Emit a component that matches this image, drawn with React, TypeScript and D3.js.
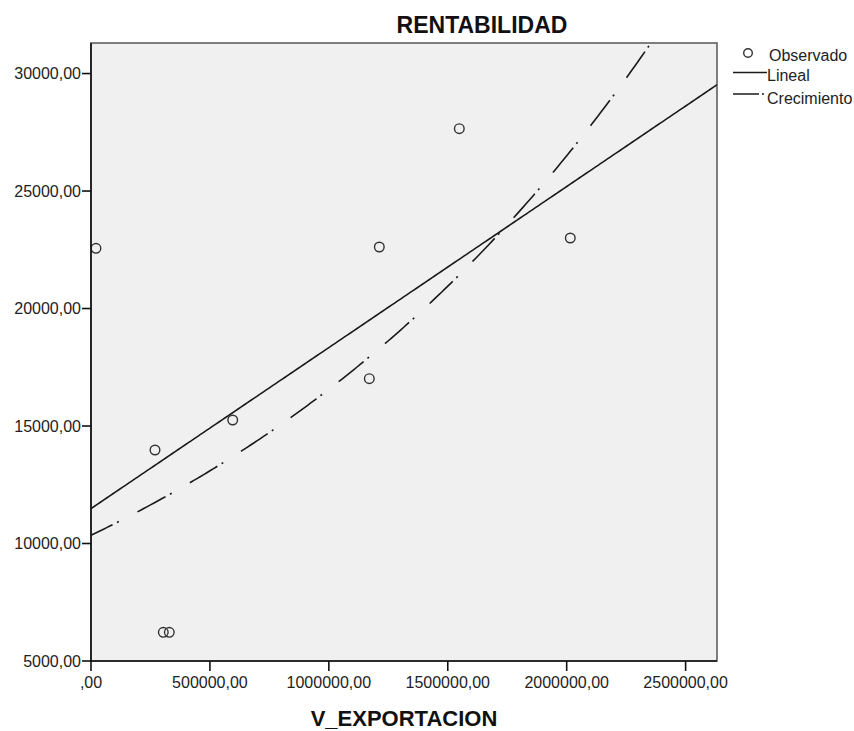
import React from "react";
import * as d3 from "d3";

const xValues = [21000, 269100, 304000, 329200, 595800, 1170100, 1212200, 1548500, 2015200];
const yValues = [22563, 13979, 6221, 6221, 15256, 17014, 22618, 27653, 23001];
const xTicks = [0, 500000, 1000000, 1500000, 2000000, 2500000];
const yTicks = [5000, 10000, 15000, 20000, 25000, 30000];
const xDomain = [0, 2632000];
const yDomain = [5000, 31300];
const legendLabels = ["Observado", "Lineal", "Crecimiento"];
const chartTitle = "RENTABILIDAD";
const xTitle = "V_EXPORTACION";

const W = 854;
const H = 731;
const L = 91, R = 717, T = 43, B = 661;
const FONT = "'Liberation Sans', Arial, sans-serif";

function fmt(v: number) {
  if (v === 0) return ",00";
  return d3.format(".2f")(v).replace(".", ",");
}

function linFit(xs: number[], ys: number[]) {
  const mx = d3.mean(xs)!, my = d3.mean(ys)!;
  let sxy = 0, sxx = 0;
  xs.forEach((x, i) => { sxy += (x - mx) * (ys[i] - my); sxx += (x - mx) ** 2; });
  const b = sxy / sxx;
  return { a: my - b * mx, b };
}

export default function App() {
  const x = d3.scaleLinear().domain(xDomain).range([L, R]);
  const y = d3.scaleLinear().domain(yDomain).range([B, T]);

  const lin = linFit(xValues, yValues);
  const gro = linFit(xValues, yValues.map(Math.log));

  const steps = d3.range(0, 201).map((i) => xDomain[0] + (xDomain[1] - xDomain[0]) * i / 200);
  const linePath = d3.line<number>().x((v) => x(v)).y((v) => y(lin.a + lin.b * v))(steps) || "";
  const growPath = d3.line<number>().x((v) => x(v)).y((v) => y(Math.exp(gro.a + gro.b * v)))(steps) || "";

  return (
    <svg width={W} height={H} style={{ position: "absolute", left: 0, top: 0, background: "#fff" }}>
      <defs>
        <clipPath id="plotclip">
          <rect x={L} y={T} width={R - L} height={B - T} />
        </clipPath>
      </defs>
      <rect x={L} y={T} width={R - L} height={B - T} fill="#f0f0f0" stroke="#555" strokeWidth={1.5} />
      <g clipPath="url(#plotclip)">
        <path d={linePath} fill="none" stroke="#1a1a1a" strokeWidth={1.6} />
        <path d={growPath} fill="none" stroke="#1a1a1a" strokeWidth={1.6} strokeDasharray="32,5,2,21" strokeDashoffset={8} />
        {xValues.map((v, i) => (
          <circle key={i} cx={x(v)} cy={y(yValues[i])} r={4.8} fill="none" stroke="#333" strokeWidth={1.4} />
        ))}
      </g>
      {/* axes */}
      <line x1={L} y1={T} x2={L} y2={B} stroke="#111" strokeWidth={1.6} />
      <line x1={L} y1={B} x2={R} y2={B} stroke="#111" strokeWidth={1.6} />
      {yTicks.map((t) => (
        <g key={t}>
          <line x1={L - 9} x2={L} y1={y(t)} y2={y(t)} stroke="#111" strokeWidth={1.6} />
          <text x={L - 10} y={y(t)} dy="0.35em" textAnchor="end" fontFamily={FONT} fontSize={16} fill="#222">{fmt(t)}</text>
        </g>
      ))}
      {xTicks.map((t) => (
        <g key={t}>
          <line x1={x(t)} x2={x(t)} y1={B} y2={B + 10} stroke="#111" strokeWidth={1.6} />
          <text x={x(t)} y={688} textAnchor="middle" fontFamily={FONT} fontSize={16} fill="#222">{fmt(t)}</text>
        </g>
      ))}
      <text x={482} y={33} textAnchor="middle" fontFamily={FONT} fontSize={23} fontWeight="bold" fill="#111">{chartTitle}</text>
      <text x={(L + R) / 2} y={726} textAnchor="middle" fontFamily={FONT} fontSize={22} fontWeight="bold" fill="#111">{xTitle}</text>
      {/* legend */}
      <circle cx={748} cy={53} r={4.3} fill="none" stroke="#333" strokeWidth={1.4} />
      <text x={769} y={55.5} dy="0.35em" fontFamily={FONT} fontSize={16} fill="#222">{legendLabels[0]}</text>
      <line x1={733} x2={767} y1={72.5} y2={72.5} stroke="#1a1a1a" strokeWidth={1.6} />
      <text x={767} y={75} dy="0.35em" fontFamily={FONT} fontSize={16} fill="#222">{legendLabels[1]}</text>
      <line x1={733} x2={767} y1={94} y2={94} stroke="#1a1a1a" strokeWidth={1.6} strokeDasharray="26,3,2,20" />
      <text x={767} y={98} dy="0.35em" fontFamily={FONT} fontSize={16} fill="#222">{legendLabels[2]}</text>
    </svg>
  );
}
